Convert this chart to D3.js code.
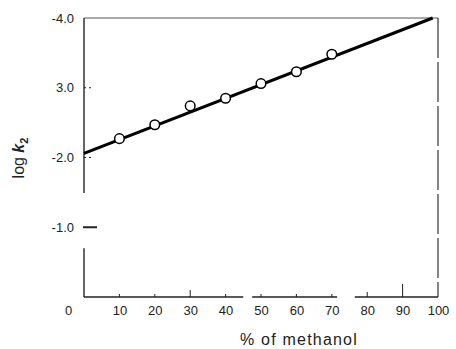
<!DOCTYPE html>
<html><head><meta charset="utf-8">
<script src="https://cdn.jsdelivr.net/npm/d3@7"></script>
<style>body{margin:0;background:#fff}svg{display:block}text{font-family:"Liberation Sans",Arial,sans-serif;fill:#222}</style>
</head><body>
<script>
const methanol = [10, 20, 30, 40, 50, 60, 70];
const logK2 = [-2.27, -2.47, -2.74, -2.85, -3.06, -3.23, -3.48];
const fitX = [0, 98.5];
const fitY = [-2.06, -4.0];
const xTicks = [0, 10, 20, 30, 40, 50, 60, 70, 80, 90, 100];
const xTickLabels = ["0", "10", "20", "30", "40", "50", "60", "70", "80", "90", "100"];
const yTicks = [-4, -3, -2, -1];
const yTickLabels = ["-4.0", "3.0", "-2.0", "-1.0"];

const W = 456, H = 349;
const svg = d3.select("body").append("svg").attr("width", W).attr("height", H);
const x = d3.scaleLinear().domain([0, 100]).range([84, 438]);
const y = d3.scaleLinear().domain([0, -4]).range([297, 18]);

// frame
const g = svg.append("g");
g.append("line").attr("x1", x(0)).attr("x2", x(100)).attr("y1", y(-4)).attr("y2", y(-4)).attr("stroke", "#555").attr("stroke-width", 1);
[[-4, -1.49], [-0.70, 0]].forEach(s => g.append("line").attr("x1", x(0)).attr("x2", x(0)).attr("y1", y(s[0])).attr("y2", y(s[1])).attr("stroke", "#333").attr("stroke-width", 1.5));
[[0, 45], [47.5, 71.5], [76.5, 100]].forEach(s => g.append("line").attr("x1", x(s[0])).attr("x2", x(s[1])).attr("y1", y(0)).attr("y2", y(0)).attr("stroke", "#222").attr("stroke-width", 1.5));
g.append("line").attr("x1", x(100)).attr("x2", x(100)).attr("y1", y(-4)).attr("y2", y(0)).attr("stroke", "#333").attr("stroke-width", 1.2).attr("stroke-dasharray", "40,4");

// x ticks (inward) and labels
const xAxis = d3.axisBottom(x).tickValues(xTicks).tickSize(0).tickFormat((d, i) => xTickLabels[i]).tickPadding(9);
const xg = svg.append("g").attr("transform", `translate(0,${y(0)})`).call(xAxis);
xg.select(".domain").remove();
xg.selectAll("text").style("font-size", "13px").attr("fill", "#222");
xg.selectAll("text").filter(d => d === 0).attr("dx", -16).attr("fill", "#999");
const tickLen = {30: 7, 80: 5, 90: 13};
svg.selectAll(".xtick").data(xTicks.filter(d => d > 0 && d < 100)).enter().append("line")
  .attr("x1", d => x(d)).attr("x2", d => x(d)).attr("y1", y(0)).attr("y2", d => y(0) - (tickLen[d] || 3))
  .attr("stroke", "#222").attr("stroke-width", 1);

// y ticks and labels
const yAxis = d3.axisLeft(y).tickValues(yTicks).tickSize(0).tickFormat((d, i) => yTickLabels[i]).tickPadding(10);
const yg = svg.append("g").attr("transform", `translate(${x(0)},0)`).call(yAxis);
yg.select(".domain").remove();
yg.selectAll("text").style("font-size", "13px").attr("fill", "#222");
yg.selectAll("text").filter(d => d === -1).attr("fill", "#888");
svg.selectAll(".ytick").data(yTicks.filter(d => d > -4)).enter().append("line")
  .attr("x1", d => x(0) - (d === -1 ? 1 : 0)).attr("x2", d => x(0) + (d === -1 ? 13 : 8)).attr("y1", d => y(d)).attr("y2", d => y(d))
  .attr("stroke", "#222").attr("stroke-width", d => d === -1 ? 2 : 1).attr("stroke-dasharray", d => d === -1 ? null : "2,3");

// fitted line
svg.append("path").datum(fitX.map((d, i) => [d, fitY[i]]))
  .attr("d", d3.line().x(d => x(d[0])).y(d => y(d[1])))
  .attr("stroke", "#000").attr("stroke-width", 3).attr("fill", "none");

// points
svg.selectAll(".pt").data(methanol).enter().append("circle")
  .attr("cx", d => x(d)).attr("cy", (d, i) => y(logK2[i])).attr("r", 4.8)
  .attr("fill", "#fff").attr("stroke", "#000").attr("stroke-width", 1.5);

// axis titles
svg.append("text").attr("x", 299).attr("y", 345).attr("text-anchor", "middle").style("font-size", "16px").style("letter-spacing", "1.2px").text("% of methanol");
const yt = svg.append("text").attr("transform", "translate(24,158) rotate(-90)").attr("text-anchor", "middle").style("font-size", "16px");
yt.append("tspan").text("log ");
yt.append("tspan").style("font-style", "italic").style("font-weight", "bold").text("k");
yt.append("tspan").attr("dy", 4).style("font-size", "11px").style("font-weight", "bold").text("2");
</script>
</body></html>
